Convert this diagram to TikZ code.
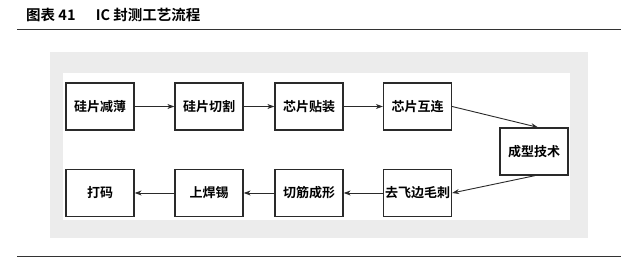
\documentclass[tikz,border=0pt]{standalone}
\usepackage{fontspec}
\newfontfamily\cjk{Noto Sans CJK SC Bold}
\newfontfamily\cjkb{Noto Sans CJK SC Bold}
\usetikzlibrary{arrows.meta}
\definecolor{panelgray}{HTML}{ECECEC}
\definecolor{boxline}{HTML}{2A2A2A}
\tikzset{
  stepbox/.style={draw=boxline, line width=1.3pt, fill=white, minimum width=68pt, minimum height=47pt, inner sep=0pt, font=\cjk\fontsize{13}{13}\selectfont},
  flow/.style={draw=boxline, line width=0.9pt, -{Stealth[length=7pt,width=5pt]}}
}
\begin{document}
\begin{tikzpicture}[x=1pt,y=-1pt]
\useasboundingbox (0,0) rectangle (640,261);
\fill[white] (0,0) rectangle (640,261);
% title
\node[anchor=west, inner sep=0pt, font=\cjkb\fontsize{14.5}{14.5}\selectfont] (title) at (26,15) {图表 41\hspace{1.4em}IC 封测工艺流程};
\draw[line width=1pt, black!80] (17,30) -- (621,30);
\draw[line width=1pt, black!80] (17,257) -- (621,257);
% panel
\fill[panelgray] (50,52) rectangle (588,238);
\fill[white] (63,73) rectangle (570,220);
% boxes
\node[stepbox] (a) at (100,106.5) {硅片减薄};
\node[stepbox] (b) at (209,106.5) {硅片切割};
\node[stepbox] (c) at (309,106.5) {芯片贴装};
\node[stepbox] (d) at (417.5,106.5) {芯片互连};
\node[stepbox] (e) at (534,151.5) {成型技术};
\node[stepbox] (f) at (417.5,193) {去飞边毛刺};
\node[stepbox] (g) at (309,193) {切筋成形};
\node[stepbox] (h) at (209,193) {上焊锡};
\node[stepbox] (i) at (100,193) {打码};
% arrows
\draw[flow] (a) -- (b);
\draw[flow] (b) -- (c);
\draw[flow] (c) -- (d);
\draw[flow] (d.east) -- ([xshift=4pt]e.north);
\draw[flow] ([xshift=1pt]e.south) -- (f.east);
\draw[flow] (f) -- (g);
\draw[flow] (g) -- (h);
\draw[flow] (h) -- (i);
\end{tikzpicture}
\end{document}
